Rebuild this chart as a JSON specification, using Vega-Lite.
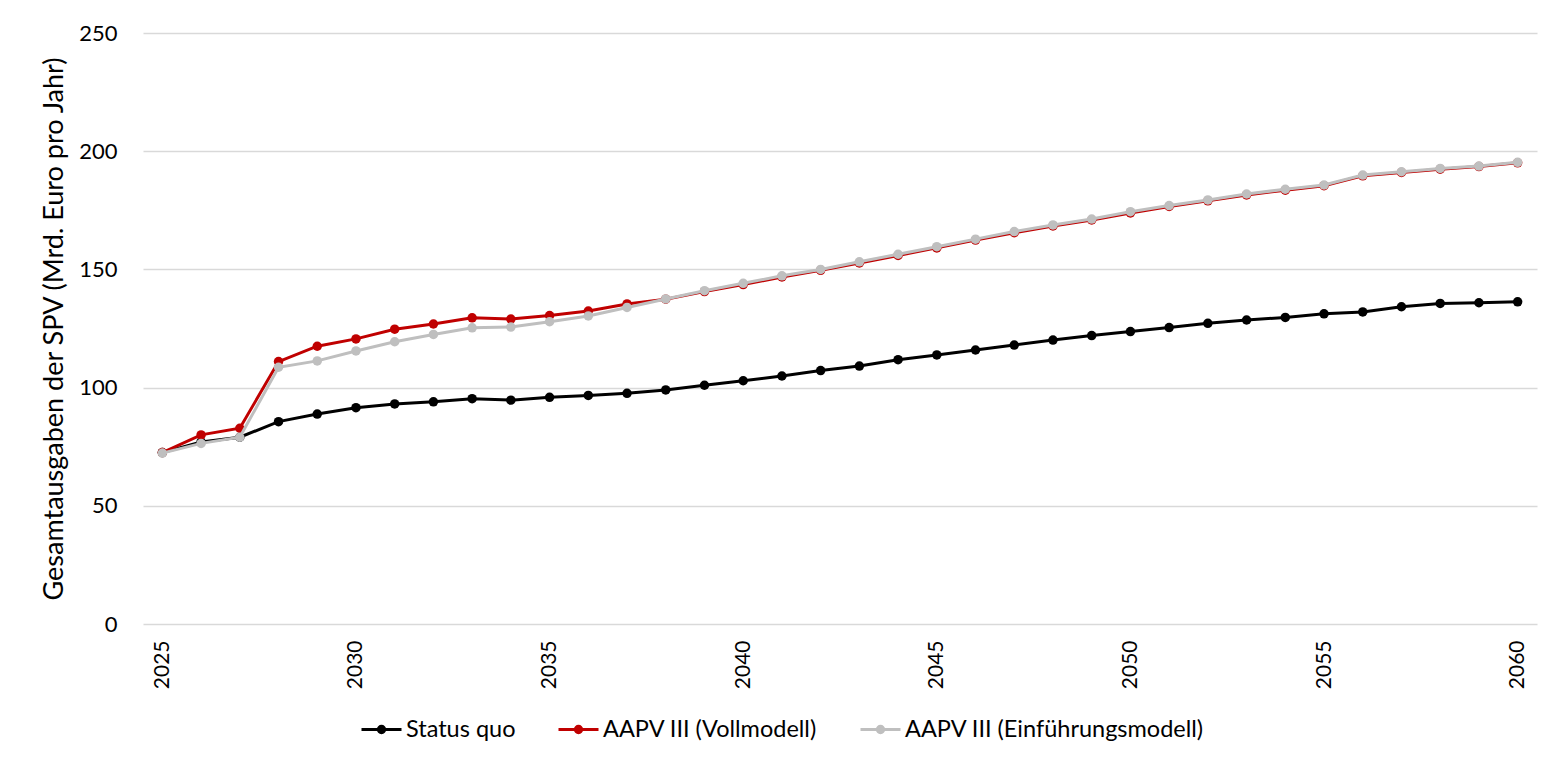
{
  "$schema": "https://vega.github.io/schema/vega-lite/v6.json",
  "width": 1394,
  "height": 591,
  "autosize": {"type": "none"},
  "padding": {"left": 143, "top": 33, "right": 16, "bottom": 135},
  "background": "#ffffff",
  "config": {
    "font": "Lato",
    "view": {"stroke": null},
    "axis": {"labelFont": "Lato", "titleFont": "Lato", "labelColor": "#000000", "titleColor": "#000000"}
  },
  "data": {
    "values": [
      {"year": 2025, "series": "Status quo", "value": 72.5},
      {"year": 2026, "series": "Status quo", "value": 77.0},
      {"year": 2027, "series": "Status quo", "value": 79.0},
      {"year": 2028, "series": "Status quo", "value": 85.6},
      {"year": 2029, "series": "Status quo", "value": 88.8},
      {"year": 2030, "series": "Status quo", "value": 91.5},
      {"year": 2031, "series": "Status quo", "value": 93.1},
      {"year": 2032, "series": "Status quo", "value": 94.0},
      {"year": 2033, "series": "Status quo", "value": 95.3},
      {"year": 2034, "series": "Status quo", "value": 94.7},
      {"year": 2035, "series": "Status quo", "value": 95.9},
      {"year": 2036, "series": "Status quo", "value": 96.7},
      {"year": 2037, "series": "Status quo", "value": 97.6},
      {"year": 2038, "series": "Status quo", "value": 99.0},
      {"year": 2039, "series": "Status quo", "value": 101.0},
      {"year": 2040, "series": "Status quo", "value": 102.9},
      {"year": 2041, "series": "Status quo", "value": 104.9},
      {"year": 2042, "series": "Status quo", "value": 107.2},
      {"year": 2043, "series": "Status quo", "value": 109.1},
      {"year": 2044, "series": "Status quo", "value": 111.8},
      {"year": 2045, "series": "Status quo", "value": 113.8},
      {"year": 2046, "series": "Status quo", "value": 115.9},
      {"year": 2047, "series": "Status quo", "value": 118.0},
      {"year": 2048, "series": "Status quo", "value": 120.1},
      {"year": 2049, "series": "Status quo", "value": 122.0},
      {"year": 2050, "series": "Status quo", "value": 123.7},
      {"year": 2051, "series": "Status quo", "value": 125.4},
      {"year": 2052, "series": "Status quo", "value": 127.2},
      {"year": 2053, "series": "Status quo", "value": 128.6},
      {"year": 2054, "series": "Status quo", "value": 129.7},
      {"year": 2055, "series": "Status quo", "value": 131.2},
      {"year": 2056, "series": "Status quo", "value": 132.0},
      {"year": 2057, "series": "Status quo", "value": 134.2},
      {"year": 2058, "series": "Status quo", "value": 135.6},
      {"year": 2059, "series": "Status quo", "value": 135.9},
      {"year": 2060, "series": "Status quo", "value": 136.3},
      {"year": 2025, "series": "AAPV III (Vollmodell)", "value": 72.5},
      {"year": 2026, "series": "AAPV III (Vollmodell)", "value": 80.0},
      {"year": 2027, "series": "AAPV III (Vollmodell)", "value": 82.8},
      {"year": 2028, "series": "AAPV III (Vollmodell)", "value": 111.0},
      {"year": 2029, "series": "AAPV III (Vollmodell)", "value": 117.5},
      {"year": 2030, "series": "AAPV III (Vollmodell)", "value": 120.6},
      {"year": 2031, "series": "AAPV III (Vollmodell)", "value": 124.7},
      {"year": 2032, "series": "AAPV III (Vollmodell)", "value": 126.9},
      {"year": 2033, "series": "AAPV III (Vollmodell)", "value": 129.5},
      {"year": 2034, "series": "AAPV III (Vollmodell)", "value": 129.0},
      {"year": 2035, "series": "AAPV III (Vollmodell)", "value": 130.5},
      {"year": 2036, "series": "AAPV III (Vollmodell)", "value": 132.4},
      {"year": 2037, "series": "AAPV III (Vollmodell)", "value": 135.4},
      {"year": 2038, "series": "AAPV III (Vollmodell)", "value": 137.4},
      {"year": 2039, "series": "AAPV III (Vollmodell)", "value": 140.6},
      {"year": 2040, "series": "AAPV III (Vollmodell)", "value": 143.6},
      {"year": 2041, "series": "AAPV III (Vollmodell)", "value": 146.8},
      {"year": 2042, "series": "AAPV III (Vollmodell)", "value": 149.6},
      {"year": 2043, "series": "AAPV III (Vollmodell)", "value": 152.7},
      {"year": 2044, "series": "AAPV III (Vollmodell)", "value": 155.9},
      {"year": 2045, "series": "AAPV III (Vollmodell)", "value": 159.1},
      {"year": 2046, "series": "AAPV III (Vollmodell)", "value": 162.4},
      {"year": 2047, "series": "AAPV III (Vollmodell)", "value": 165.5},
      {"year": 2048, "series": "AAPV III (Vollmodell)", "value": 168.4},
      {"year": 2049, "series": "AAPV III (Vollmodell)", "value": 170.9},
      {"year": 2050, "series": "AAPV III (Vollmodell)", "value": 173.9},
      {"year": 2051, "series": "AAPV III (Vollmodell)", "value": 176.6},
      {"year": 2052, "series": "AAPV III (Vollmodell)", "value": 179.0},
      {"year": 2053, "series": "AAPV III (Vollmodell)", "value": 181.5},
      {"year": 2054, "series": "AAPV III (Vollmodell)", "value": 183.5},
      {"year": 2055, "series": "AAPV III (Vollmodell)", "value": 185.4},
      {"year": 2056, "series": "AAPV III (Vollmodell)", "value": 189.6},
      {"year": 2057, "series": "AAPV III (Vollmodell)", "value": 191.0},
      {"year": 2058, "series": "AAPV III (Vollmodell)", "value": 192.4},
      {"year": 2059, "series": "AAPV III (Vollmodell)", "value": 193.5},
      {"year": 2060, "series": "AAPV III (Vollmodell)", "value": 195.1},
      {"year": 2025, "series": "AAPV III (Einführungsmodell)", "value": 72.3},
      {"year": 2026, "series": "AAPV III (Einführungsmodell)", "value": 76.4},
      {"year": 2027, "series": "AAPV III (Einführungsmodell)", "value": 79.0},
      {"year": 2028, "series": "AAPV III (Einführungsmodell)", "value": 108.6},
      {"year": 2029, "series": "AAPV III (Einführungsmodell)", "value": 111.3},
      {"year": 2030, "series": "AAPV III (Einführungsmodell)", "value": 115.5},
      {"year": 2031, "series": "AAPV III (Einführungsmodell)", "value": 119.4},
      {"year": 2032, "series": "AAPV III (Einführungsmodell)", "value": 122.5},
      {"year": 2033, "series": "AAPV III (Einführungsmodell)", "value": 125.3},
      {"year": 2034, "series": "AAPV III (Einführungsmodell)", "value": 125.6},
      {"year": 2035, "series": "AAPV III (Einführungsmodell)", "value": 127.9},
      {"year": 2036, "series": "AAPV III (Einführungsmodell)", "value": 130.3},
      {"year": 2037, "series": "AAPV III (Einführungsmodell)", "value": 133.9},
      {"year": 2038, "series": "AAPV III (Einführungsmodell)", "value": 137.5},
      {"year": 2039, "series": "AAPV III (Einführungsmodell)", "value": 141.0},
      {"year": 2040, "series": "AAPV III (Einführungsmodell)", "value": 144.1},
      {"year": 2041, "series": "AAPV III (Einführungsmodell)", "value": 147.3},
      {"year": 2042, "series": "AAPV III (Einführungsmodell)", "value": 150.0},
      {"year": 2043, "series": "AAPV III (Einführungsmodell)", "value": 153.2},
      {"year": 2044, "series": "AAPV III (Einführungsmodell)", "value": 156.4},
      {"year": 2045, "series": "AAPV III (Einführungsmodell)", "value": 159.6},
      {"year": 2046, "series": "AAPV III (Einführungsmodell)", "value": 162.8},
      {"year": 2047, "series": "AAPV III (Einführungsmodell)", "value": 166.0},
      {"year": 2048, "series": "AAPV III (Einführungsmodell)", "value": 168.8},
      {"year": 2049, "series": "AAPV III (Einführungsmodell)", "value": 171.3},
      {"year": 2050, "series": "AAPV III (Einführungsmodell)", "value": 174.4},
      {"year": 2051, "series": "AAPV III (Einführungsmodell)", "value": 177.0},
      {"year": 2052, "series": "AAPV III (Einführungsmodell)", "value": 179.4},
      {"year": 2053, "series": "AAPV III (Einführungsmodell)", "value": 181.9},
      {"year": 2054, "series": "AAPV III (Einführungsmodell)", "value": 183.9},
      {"year": 2055, "series": "AAPV III (Einführungsmodell)", "value": 185.7},
      {"year": 2056, "series": "AAPV III (Einführungsmodell)", "value": 189.9},
      {"year": 2057, "series": "AAPV III (Einführungsmodell)", "value": 191.3},
      {"year": 2058, "series": "AAPV III (Einführungsmodell)", "value": 192.7},
      {"year": 2059, "series": "AAPV III (Einführungsmodell)", "value": 193.7},
      {"year": 2060, "series": "AAPV III (Einführungsmodell)", "value": 195.3}
    ]
  },
  "encoding": {
    "x": {
      "field": "year",
      "type": "quantitative",
      "scale": {"domain": [2024.5, 2060.5], "nice": false, "zero": false},
      "axis": {
        "title": null,
        "values": [2025, 2030, 2035, 2040, 2045, 2050, 2055, 2060],
        "format": "d",
        "labelAngle": 270,
        "labelAlign": "right",
        "labelBaseline": "middle",
        "labelFontSize": 21,
        "labelPadding": 16,
        "ticks": false,
        "domain": false,
        "grid": false,
        "labelFlush": false,
        "labelOverlap": false
      }
    },
    "y": {
      "field": "value",
      "type": "quantitative",
      "scale": {"domain": [0, 250], "nice": false},
      "axis": {
        "title": "Gesamtausgaben der SPV (Mrd. Euro pro Jahr)",
        "titleFontSize": 27,
        "titleFontWeight": "normal",
        "titlePadding": 10,
        "values": [0, 50, 100, 150, 200, 250],
        "labelFontSize": 22,
        "labelPadding": 26,
        "ticks": false,
        "domain": false,
        "grid": true,
        "gridColor": "#D9D9D9",
        "gridWidth": 1.5
      }
    },
    "color": {
      "field": "series",
      "type": "nominal",
      "scale": {
        "domain": ["Status quo", "AAPV III (Vollmodell)", "AAPV III (Einführungsmodell)"],
        "range": ["#000000", "#C00000", "#BFBFBF"]
      },
      "legend": {
        "title": null,
        "orient": "none",
        "direction": "horizontal",
        "legendX": 217,
        "legendY": 675,
        "labelFontSize": 23.5,
        "labelFont": "Lato",
        "labelColor": "#000000",
        "labelLimit": 0,
        "labelOffset": 3,
        "columnPadding": 36,
        "symbolType": "M-1,0L1,0M-0.16,0A0.16,0.16,0,1,0,0.16,0A0.16,0.16,0,1,0,-0.16,0Z",
        "symbolSize": 1600,
        "symbolStrokeWidth": 3,
        "encode": {
          "symbols": {"update": {"fill": {"scale": "color", "field": "value"}, "stroke": {"scale": "color", "field": "value"}}}
        }
      }
    }
  },
  "layer": [
    {
      "transform": [{"filter": "datum.series === 'Status quo'"}],
      "mark": {"type": "line", "strokeWidth": 3, "point": {"filled": true, "size": 90, "opacity": 1}}
    },
    {
      "transform": [{"filter": "datum.series === 'AAPV III (Vollmodell)'"}],
      "mark": {"type": "line", "strokeWidth": 3, "point": {"filled": true, "size": 90, "opacity": 1}}
    },
    {
      "transform": [{"filter": "datum.series === 'AAPV III (Einführungsmodell)'"}],
      "mark": {"type": "line", "strokeWidth": 3, "point": {"filled": true, "size": 90, "opacity": 1}}
    }
  ]
}
